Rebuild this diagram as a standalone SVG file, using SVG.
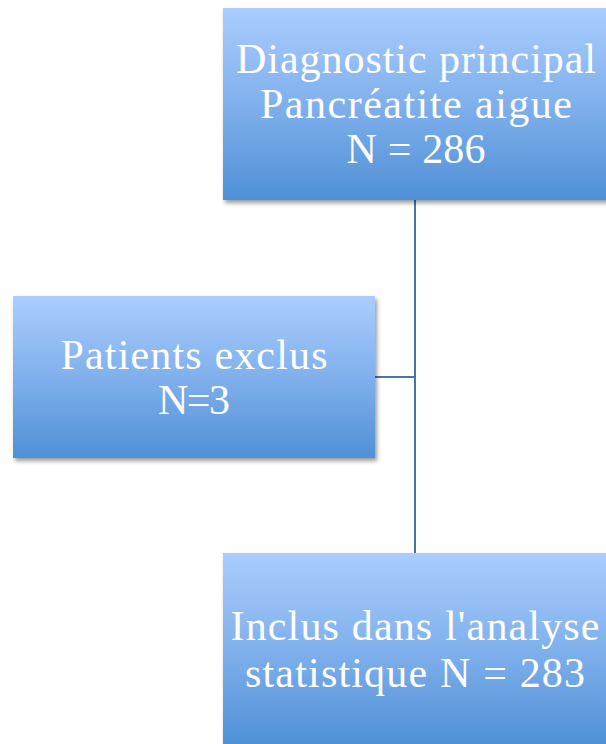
<svg xmlns="http://www.w3.org/2000/svg" width="606" height="744" viewBox="0 0 606 744">
<defs>
<linearGradient id="g" x1="0" y1="0" x2="0" y2="1">
<stop offset="0" stop-color="#aacdfe"/>
<stop offset="0.5" stop-color="#80b0ec"/>
<stop offset="1" stop-color="#4f90d6"/>
</linearGradient>
<filter id="sh" x="-10%" y="-10%" width="130%" height="130%">
<feDropShadow dx="2" dy="3" stdDeviation="2" flood-color="#000" flood-opacity="0.4"/>
</filter>
</defs>
<style>
.box{fill:url(#g);filter:url(#sh);}
.t{font-family:"Liberation Serif","Times New Roman",serif;font-size:42px;fill:#ffffff;text-anchor:middle;}
.c{stroke:#4a74a8;stroke-width:2;fill:none;}
</style>
<rect width="606" height="744" fill="#ffffff"/>
<g id="connectors">
<line class="c" x1="415" y1="200" x2="415" y2="553"/>
<line class="c" x1="375" y1="377" x2="415" y2="377"/>
</g>
<g id="node-diagnostic">
<rect class="box" x="223" y="8" width="390" height="192"/>
<text class="t" x="416" y="73" textLength="360" lengthAdjust="spacing">Diagnostic principal</text>
<text class="t" x="416" y="118" textLength="312" lengthAdjust="spacing">Pancréatite aigue</text>
<text class="t" x="416" y="163" textLength="139" lengthAdjust="spacing">N = 286</text>
</g>
<g id="node-exclus">
<rect class="box" x="13" y="296" width="362" height="162"/>
<text class="t" x="194" y="369" textLength="267" lengthAdjust="spacing">Patients exclus</text>
<text class="t" x="194" y="414" textLength="72" lengthAdjust="spacing">N=3</text>
</g>
<g id="node-inclus">
<rect class="box" x="223" y="553" width="390" height="192"/>
<text class="t" x="415" y="640" textLength="369" lengthAdjust="spacing">Inclus dans l'analyse</text>
<text class="t" x="415" y="687" textLength="340" lengthAdjust="spacing">statistique N = 283</text>
</g>
</svg>
